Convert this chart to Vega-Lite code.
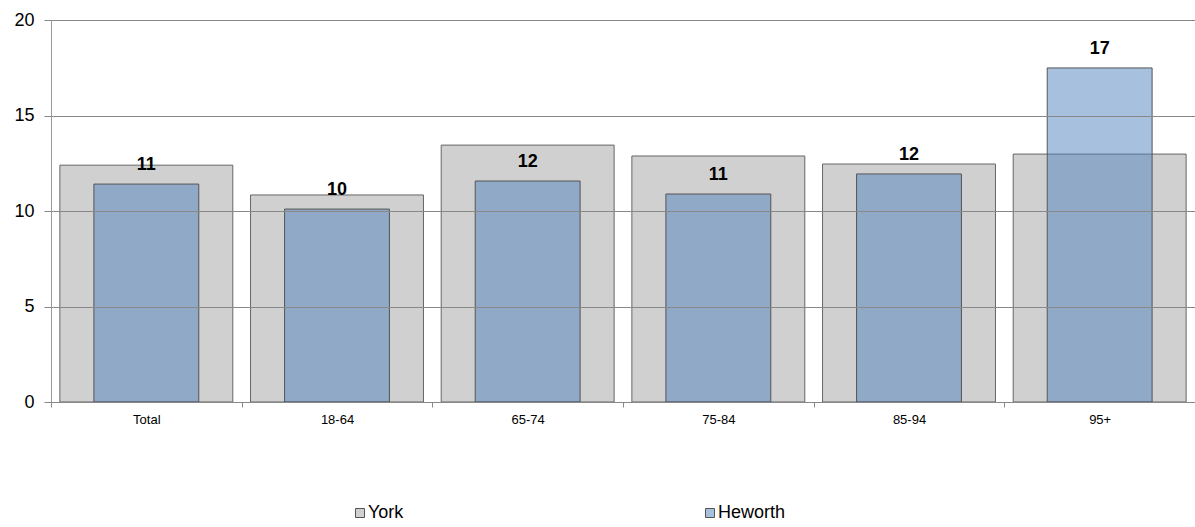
{
  "$schema": "https://vega.github.io/schema/vega-lite/v6.json",
  "width": 1144,
  "height": 382,
  "autosize": {"type": "none"},
  "padding": {"left": 51, "top": 20, "right": 0, "bottom": 125},
  "background": "white",
  "config": {
    "view": {"stroke": null},
    "font": "Liberation Sans"
  },
  "data": {
    "values": [
      {"group": "Total", "series": "York", "value": 12.4},
      {"group": "18-64", "series": "York", "value": 10.84},
      {"group": "65-74", "series": "York", "value": 13.45},
      {"group": "75-84", "series": "York", "value": 12.88},
      {"group": "85-94", "series": "York", "value": 12.46},
      {"group": "95+", "series": "York", "value": 12.98},
      {"group": "Total", "series": "Heworth", "value": 11.41},
      {"group": "18-64", "series": "Heworth", "value": 10.1},
      {"group": "65-74", "series": "Heworth", "value": 11.57},
      {"group": "75-84", "series": "Heworth", "value": 10.89},
      {"group": "85-94", "series": "Heworth", "value": 11.94},
      {"group": "95+", "series": "Heworth", "value": 17.49}
    ]
  },
  "encoding": {
    "x": {
      "field": "group",
      "type": "nominal",
      "sort": null,
      "scale": {"paddingInner": 0, "paddingOuter": 0},
      "axis": {
        "title": null,
        "labelAngle": 0,
        "labelFontSize": 13,
        "labelColor": "#000000",
        "labelPadding": 6,
        "tickBand": "extent",
        "tickColor": "#888888",
        "tickSize": 5,
        "domainColor": "#888888",
        "grid": false
      }
    },
    "y": {
      "field": "value",
      "type": "quantitative",
      "scale": {"domain": [0, 20], "nice": false},
      "axis": {
        "title": null,
        "values": [0, 5, 10, 15, 20],
        "labelFontSize": 18,
        "labelColor": "#000000",
        "labelPadding": 10,
        "tickColor": "#888888",
        "tickSize": 7,
        "domainColor": "#999999",
        "gridColor": "#888888",
        "gridOpacity": 1,
        "zindex": 1
      }
    }
  },
  "layer": [
    {
      "transform": [{"filter": "datum.series === 'York'"}],
      "mark": {"type": "bar", "width": {"band": 0.907}, "stroke": "#666666", "strokeWidth": 1},
      "encoding": {
        "color": {
          "field": "series",
          "type": "nominal",
          "scale": {"domain": ["York", "Heworth"], "range": ["#D0D0D0", "rgba(79,129,189,0.5)"]},
          "legend": {
            "title": null,
            "orient": "none",
            "legendX": 300,
            "legendY": 484,
            "direction": "horizontal",
            "symbolType": "square",
            "symbolSize": 81,
            "symbolStrokeColor": "#666666",
            "symbolStrokeWidth": 1,
            "labelFontSize": 18,
            "labelColor": "#000000",
            "labelOffset": -1,
            "columnPadding": 297
          }
        }
      }
    },
    {
      "transform": [{"filter": "datum.series === 'Heworth'"}],
      "mark": {"type": "bar", "width": {"band": 0.55}, "stroke": "#555555", "strokeWidth": 1},
      "encoding": {
        "color": {"field": "series", "type": "nominal"}
      }
    },
    {
      "transform": [{"filter": "datum.series === 'Heworth'"}],
      "mark": {"type": "text", "baseline": "bottom", "dy": -10, "fontSize": 18, "fontWeight": "bold", "color": "#000000"},
      "encoding": {
        "text": {"field": "value", "type": "quantitative", "format": ".0f"}
      }
    }
  ]
}
